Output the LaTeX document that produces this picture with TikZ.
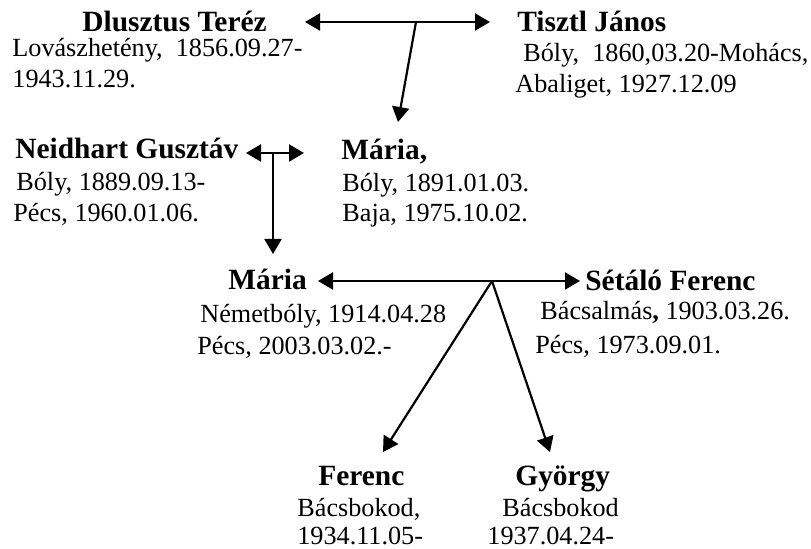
\documentclass[tikz,border=0pt]{standalone}
\usepackage{fontspec}
\setmainfont{Liberation Serif}
\usetikzlibrary{arrows.meta}
\tikzset{
  nm/.style={font=\fontsize{14.7}{17}\selectfont\bfseries, anchor=base west, inner sep=0pt},
  tx/.style={font=\fontsize{13.1}{15}\selectfont, anchor=base west, inner sep=0pt},
  arr/.style={line width=1.1pt, -{Triangle[length=7.5pt,width=8.5pt]}}
}
\begin{document}
\begin{tikzpicture}[x=0.5pt,y=-0.5pt]
\useasboundingbox (0,0) rectangle (811,549);
% generation 1
\node[nm] (dt) at (82,32) {Dlusztus Teréz};
\node[tx] (dt1) at (12,57) {Lovászhetény,\ \ 1856.09.27-};
\node[tx] (dt2) at (12,88) {1943.11.29.};
\node[nm] (tj) at (517,32) {Tisztl János};
\node[tx] (tj1) at (523,62) {Bóly,\ \ 1860,03.20-Mohács,};
\node[tx] (tj2) at (515,93) {Abaliget, 1927.12.09};
% generation 2
\node[nm] (ng) at (15,159) {Neidhart Gusztáv};
\node[tx] (ng1) at (16,191) {Bóly, 1889.09.13-};
\node[tx] (ng2) at (13,222) {Pécs, 1960.01.06.};
\node[nm] (m1) at (341,160) {Mária,};
\node[tx] (m1a) at (342,192) {Bóly, 1891.01.03.};
\node[tx] (m1b) at (342,222) {Baja, 1975.10.02.};
% generation 3
\node[nm] (m2) at (228,290) {Mária};
\node[tx] (m2a) at (200,323) {Németbóly, 1914.04.28};
\node[tx] (m2b) at (197,355) {Pécs, 2003.03.02.-};
\node[nm] (sf) at (585,291) {Sétáló Ferenc};
\node[tx] (sf1) at (540,320) {Bácsalmás{\bfseries,} 1903.03.26.};
\node[tx] (sf2) at (535,354) {Pécs, 1973.09.01.};
% generation 4
\node[nm] (fe) at (318,486) {Ferenc};
\node[tx] (fe1) at (297,517) {Bácsbokod,};
\node[tx] (fe2) at (297,545) {1934.11.05-};
\node[nm] (gy) at (515,486) {György};
\node[tx] (gy1) at (502,517) {Bácsbokod};
\node[tx] (gy2) at (487,545) {1937.04.24-};
% junctions
\coordinate (jA) at (416,22);
\coordinate (jB) at (273,153);
\coordinate (jC) at (492,281);
% connectors
\draw[arr] (jA) -- ([shift={(223,-10)}]dt.base west);
\draw[arr] (jA) -- ([shift={(-27,-10)}]tj.base west);
\draw[arr] (jA) -- ([shift={(57,-38)}]m1.base west);
\draw[arr] (jB) -- ([shift={(231,-6)}]ng.base west);
\draw[arr] (jB) -- ([shift={(-37,-7)}]m1.base west);
\draw[arr] (jB) -- ([shift={(45,-36)}]m2.base west);
\draw[arr] (jC) -- ([shift={(90,-9)}]m2.base west);
\draw[arr] (jC) -- ([shift={(-5,-10)}]sf.base west);
\draw[arr] (jC) -- ([shift={(65,-34)}]fe.base west);
\draw[arr] (jC) -- ([shift={(35,-34)}]gy.base west);
\end{tikzpicture}
\end{document}
